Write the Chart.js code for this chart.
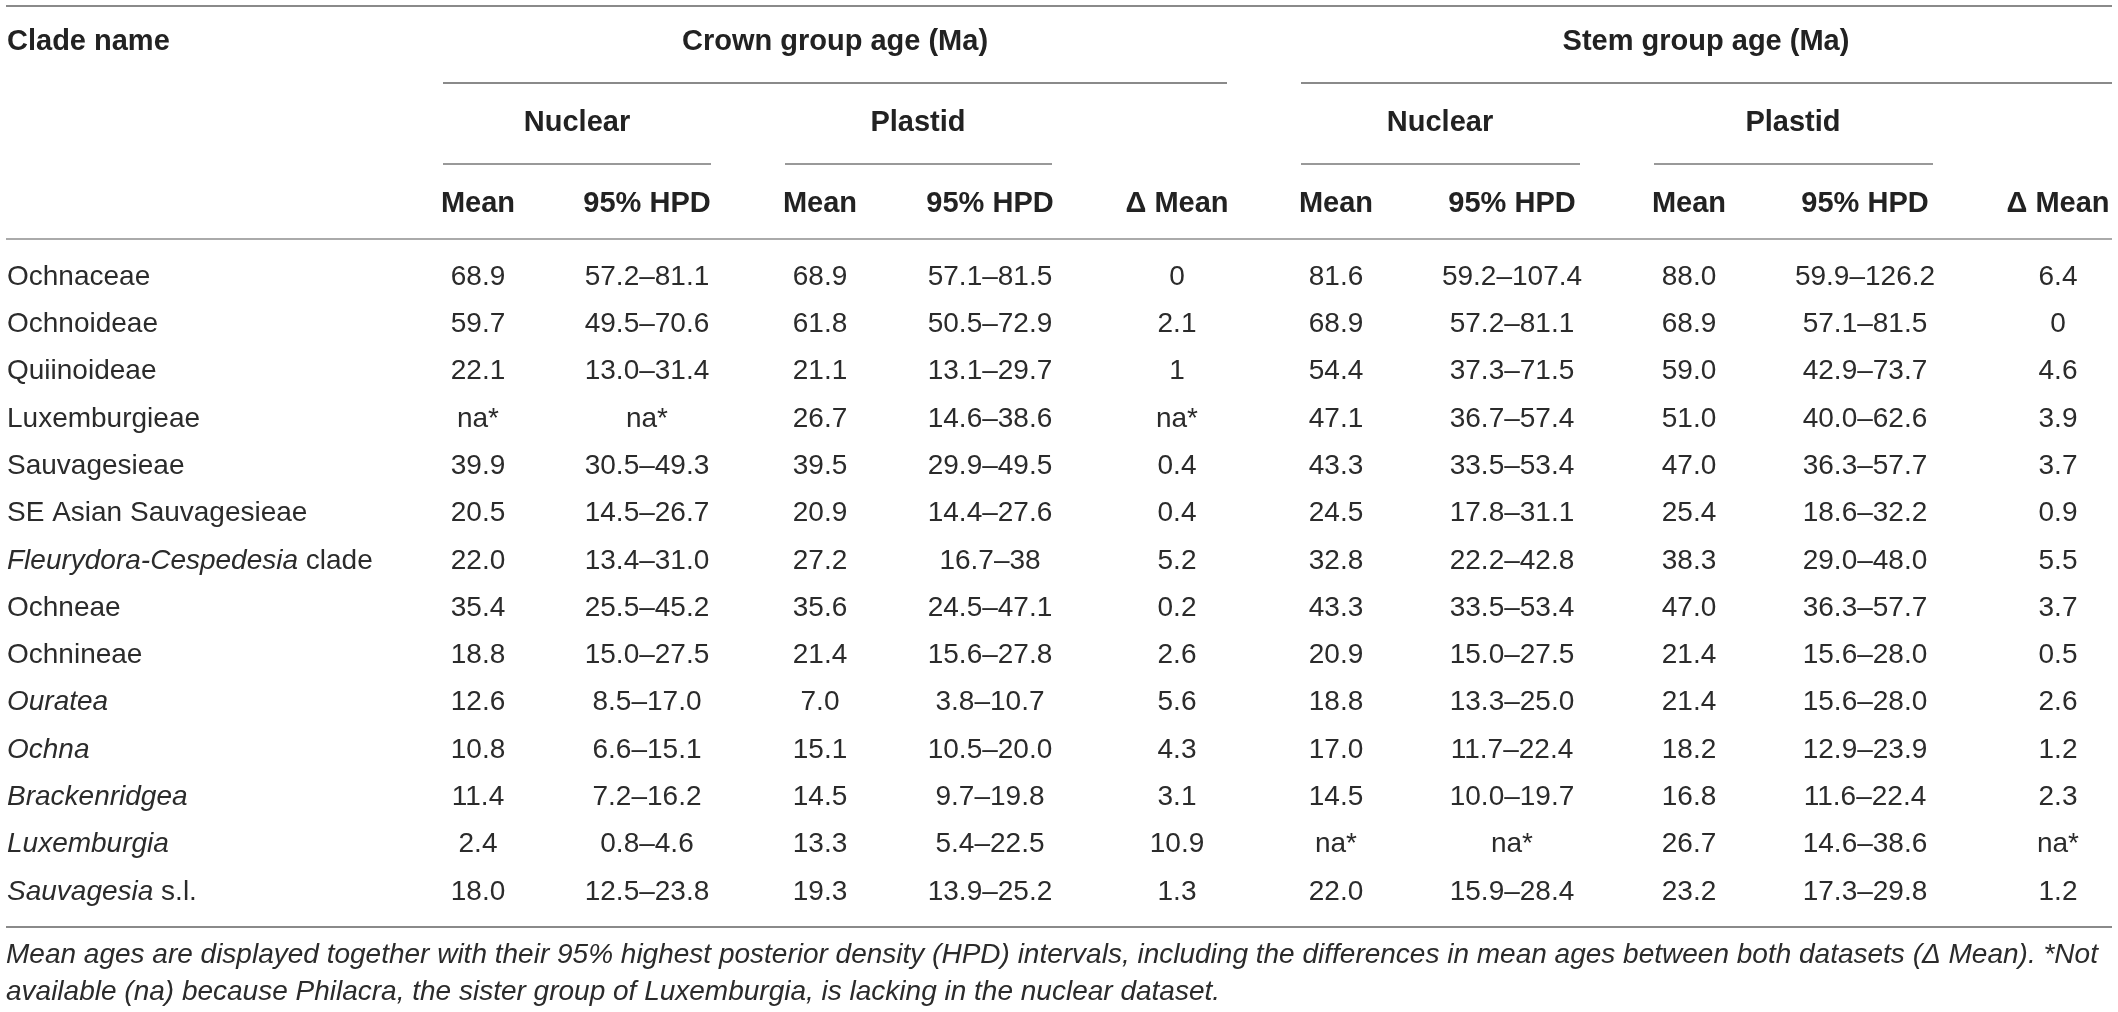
<!DOCTYPE html>
<html>
<head>
<meta charset="utf-8">
<script src="https://cdn.jsdelivr.net/npm/chart.js@4.4.1/dist/chart.umd.min.js"></script>
<style>
  html, body { margin: 0; padding: 0; background: #fff; }
  #wrap { width: 2118px; height: 1012px; position: relative; }
</style>
</head>
<body>
<div id="wrap"><canvas id="table"></canvas></div>
<script>
// table content
var clades = ["Ochnaceae", "Ochnoideae", "Quiinoideae", "Luxemburgieae", "Sauvagesieae",
    "SE Asian Sauvagesieae", "Fleurydora-Cespedesia clade", "Ochneae", "Ochnineae",
    "Ouratea", "Ochna", "Brackenridgea", "Luxemburgia", "Sauvagesia s.l."];
// leading part of the name that is set in italics (genus names)
var cladeItalic = ["", "", "", "", "", "", "Fleurydora-Cespedesia", "", "",
    "Ouratea", "Ochna", "Brackenridgea", "Luxemburgia", "Sauvagesia"];

var crownNuclearMean = ["68.9", "59.7", "22.1", "na*", "39.9", "20.5", "22.0", "35.4", "18.8", "12.6", "10.8", "11.4", "2.4", "18.0"];
var crownNuclearHPD = ["57.2–81.1", "49.5–70.6", "13.0–31.4", "na*", "30.5–49.3", "14.5–26.7", "13.4–31.0", "25.5–45.2", "15.0–27.5", "8.5–17.0", "6.6–15.1", "7.2–16.2", "0.8–4.6", "12.5–23.8"];
var crownPlastidMean = ["68.9", "61.8", "21.1", "26.7", "39.5", "20.9", "27.2", "35.6", "21.4", "7.0", "15.1", "14.5", "13.3", "19.3"];
var crownPlastidHPD = ["57.1–81.5", "50.5–72.9", "13.1–29.7", "14.6–38.6", "29.9–49.5", "14.4–27.6", "16.7–38", "24.5–47.1", "15.6–27.8", "3.8–10.7", "10.5–20.0", "9.7–19.8", "5.4–22.5", "13.9–25.2"];
var crownDelta = ["0", "2.1", "1", "na*", "0.4", "0.4", "5.2", "0.2", "2.6", "5.6", "4.3", "3.1", "10.9", "1.3"];

var stemNuclearMean = ["81.6", "68.9", "54.4", "47.1", "43.3", "24.5", "32.8", "43.3", "20.9", "18.8", "17.0", "14.5", "na*", "22.0"];
var stemNuclearHPD = ["59.2–107.4", "57.2–81.1", "37.3–71.5", "36.7–57.4", "33.5–53.4", "17.8–31.1", "22.2–42.8", "33.5–53.4", "15.0–27.5", "13.3–25.0", "11.7–22.4", "10.0–19.7", "na*", "15.9–28.4"];
var stemPlastidMean = ["88.0", "68.9", "59.0", "51.0", "47.0", "25.4", "38.3", "47.0", "21.4", "21.4", "18.2", "16.8", "26.7", "23.2"];
var stemPlastidHPD = ["59.9–126.2", "57.1–81.5", "42.9–73.7", "40.0–62.6", "36.3–57.7", "18.6–32.2", "29.0–48.0", "36.3–57.7", "15.6–28.0", "15.6–28.0", "12.9–23.9", "11.6–22.4", "14.6–38.6", "17.3–29.8"];
var stemDelta = ["6.4", "0", "4.6", "3.9", "3.7", "0.9", "5.5", "3.7", "0.5", "2.6", "1.2", "2.3", "na*", "1.2"];

var groupHeaders = ["Crown group age (Ma)", "Stem group age (Ma)"];
var subHeaders = ["Nuclear", "Plastid", "Nuclear", "Plastid"];
var columnHeaders = ["Mean", "95% HPD", "Mean", "95% HPD", "Δ Mean", "Mean", "95% HPD", "Mean", "95% HPD", "Δ Mean"];
var firstHeader = "Clade name";
var footnoteLines = [
    "Mean ages are displayed together with their 95% highest posterior density (HPD) intervals, including the differences in mean ages between both datasets (Δ Mean). *Not",
    "available (na) because Philacra, the sister group of Luxemburgia, is lacking in the nuclear dataset."
];

var columns = [crownNuclearMean, crownNuclearHPD, crownPlastidMean, crownPlastidHPD, crownDelta,
    stemNuclearMean, stemNuclearHPD, stemPlastidMean, stemPlastidHPD, stemDelta];

// layout, in page pixels (the scales run 0..2118 and 0..1012)
var layout = {
    left: 7, right: 2112,
    colX: [478, 647, 820, 990, 1177, 1336, 1512, 1689, 1865, 2058],
    groupX: [835, 1706], groupSpan: [[443, 1227], [1301, 2112]],
    subX: [577, 918, 1440, 1793], subSpan: [[443, 711], [785, 1052], [1301, 1580], [1654, 1933]],
    groupY: 42, subY: 123, headY: 204,
    firstRowY: 277, rowStep: 47.3,
    ruleTop: 6, ruleGroup: 83, ruleSub: 164, ruleHead: 239, ruleBottom: 927,
    noteY: [955, 992]
};

var FAMILY = "'Liberation Sans', Arial, Helvetica, sans-serif";
var fonts = {
    head: "bold 29px " + FAMILY,
    cell: "28px " + FAMILY,
    cellItalic: "italic 28px " + FAMILY,
    note: "italic 28px " + FAMILY
};

function rowY(i) { return layout.firstRowY + i * layout.rowStep; }

function textSet(points, font, align, color) {
    return {
        type: "scatter", data: points, pointRadius: 0, pointHoverRadius: 0,
        textFont: font, textAlign: align, textColor: color
    };
}

var datasets = [];
// clade names
datasets.push(textSet(clades.map(function (c, i) {
    return { x: layout.left, y: rowY(i), t: c, it: cladeItalic[i] };
}), fonts.cell, "left", "#2b2b2b"));
// value cells
columns.forEach(function (col, j) {
    datasets.push(textSet(col.map(function (v, i) {
        return { x: layout.colX[j], y: rowY(i), t: v };
    }), fonts.cell, "center", "#2b2b2b"));
});
// headers
datasets.push(textSet([{ x: layout.left, y: layout.groupY, t: firstHeader }], fonts.head, "left", "#222"));
datasets.push(textSet(groupHeaders.map(function (h, i) {
    return { x: layout.groupX[i], y: layout.groupY, t: h };
}), fonts.head, "center", "#222"));
datasets.push(textSet(subHeaders.map(function (h, i) {
    return { x: layout.subX[i], y: layout.subY, t: h };
}), fonts.head, "center", "#222"));
datasets.push(textSet(columnHeaders.map(function (h, i) {
    return { x: layout.colX[i], y: layout.headY, t: h };
}), fonts.head, "center", "#222"));
// footnote
datasets.push(textSet(footnoteLines.map(function (h, i) {
    return { x: layout.left - 1, y: layout.noteY[i], t: h };
}), fonts.note, "left", "#2b2b2b"));

var rules = [
    { x1: layout.left - 1, x2: layout.right, y: layout.ruleTop, c: "#8a8a8a" },
    { x1: layout.groupSpan[0][0], x2: layout.groupSpan[0][1], y: layout.ruleGroup, c: "#8a8a8a" },
    { x1: layout.groupSpan[1][0], x2: layout.groupSpan[1][1], y: layout.ruleGroup, c: "#8a8a8a" },
    { x1: layout.left - 1, x2: layout.right, y: layout.ruleHead, c: "#aaaaaa" },
    { x1: layout.left - 1, x2: layout.right, y: layout.ruleBottom, c: "#8a8a8a" }
];
layout.subSpan.forEach(function (s) {
    rules.push({ x1: s[0], x2: s[1], y: layout.ruleSub, c: "#999999" });
});

var tablePlugin = {
    id: "tableText",
    beforeDatasetsDraw: function (chart) {
        var ctx = chart.ctx, xs = chart.scales.x, ys = chart.scales.y;
        ctx.save();
        ctx.lineWidth = 2;
        rules.forEach(function (r) {
            var y = Math.round(ys.getPixelForValue(r.y));
            ctx.strokeStyle = r.c;
            ctx.beginPath();
            ctx.moveTo(xs.getPixelForValue(r.x1), y);
            ctx.lineTo(xs.getPixelForValue(r.x2), y);
            ctx.stroke();
        });
        ctx.restore();
    },
    afterDatasetsDraw: function (chart) {
        var ctx = chart.ctx;
        ctx.save();
        ctx.textBaseline = "middle";
        chart.data.datasets.forEach(function (ds, di) {
            var meta = chart.getDatasetMeta(di);
            ctx.fillStyle = ds.textColor;
            meta.data.forEach(function (pt, k) {
                var raw = ds.data[k];
                if (raw.it) {
                    // italic genus part, then the rest upright
                    ctx.textAlign = "left";
                    ctx.font = fonts.cellItalic;
                    ctx.fillText(raw.it, pt.x, pt.y);
                    var w = ctx.measureText(raw.it).width;
                    ctx.font = ds.textFont;
                    ctx.fillText(raw.t.slice(raw.it.length), pt.x + w, pt.y);
                } else {
                    ctx.font = ds.textFont;
                    ctx.textAlign = ds.textAlign;
                    ctx.fillText(raw.t, pt.x, pt.y);
                }
            });
        });
        ctx.restore();
    }
};

new Chart(document.getElementById("table").getContext("2d"), {
    type: "scatter",
    data: { datasets: datasets },
    options: {
        responsive: true,
        maintainAspectRatio: false,
        animation: false,
        events: [],
        layout: { padding: 0 },
        scales: {
            x: { type: "linear", min: 0, max: 2118, display: false },
            y: { type: "linear", min: 0, max: 1012, reverse: true, display: false }
        },
        plugins: { legend: { display: false }, tooltip: { enabled: false } }
    },
    plugins: [tablePlugin]
});
</script>
</body>
</html>
